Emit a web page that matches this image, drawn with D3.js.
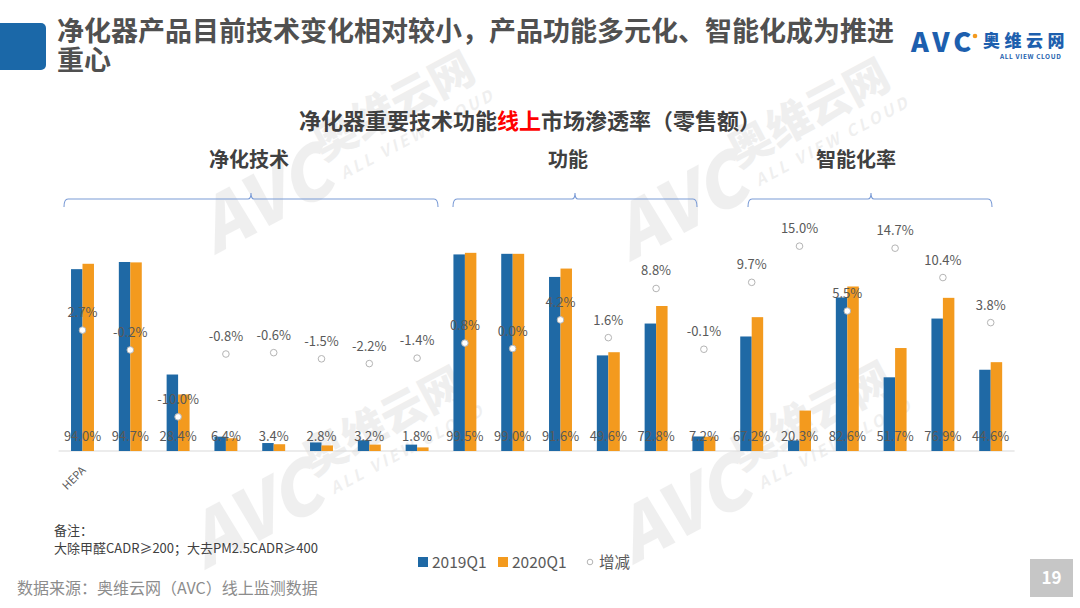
<!DOCTYPE html>
<html>
<head>
<meta charset="utf-8">
<script src="https://cdn.jsdelivr.net/npm/d3@7"></script>
<style>
  html, body { margin: 0; padding: 0; background: #fff; }
  #chart { width: 1080px; height: 608px; }
  text { font-family: "Noto Sans CJK SC", "Noto Sans", sans-serif; }
</style>
</head>
<body>
<div id="chart"></div>
<script>
"use strict";

// categories (only the first one carries a visible label in the source)
const categories = ["HEPA", "", "", "", "", "", "", "",
                    "", "", "", "", "", "",
                    "", "", "", "", "", ""];

// 2020Q1 penetration (%)
const values2020 = [94.0, 94.7, 28.4, 6.4, 3.4, 2.8, 3.2, 1.8,
                    99.5, 99.0, 91.6, 49.6, 72.8, 7.2,
                    67.2, 20.3, 82.6, 51.7, 76.9, 44.6];

// change in percentage points (2020Q1 - 2019Q1)
const changes = [2.7, -0.2, -10.0, -0.8, -0.6, -1.5, -2.2, -1.4,
                 0.8, 0.0, 4.2, 1.6, 8.8, -0.1,
                 9.7, 15.0, 5.5, 14.7, 10.4, 3.8];

// 2019Q1 penetration (%)
const values2019 = [91.3, 94.9, 38.4, 7.2, 4.0, 4.3, 5.4, 3.2,
                    98.7, 99.0, 87.4, 48.0, 64.0, 7.3,
                    57.5, 5.3, 77.1, 37.0, 66.5, 40.8];

const seriesNames = ["2019Q1", "2020Q1", "增减"];
const groupNames = ["净化技术", "功能", "智能化率"];

const width = 1080, height = 608;
const blue = "#1f69a5", orange = "#f39a1e", grey = "#595959";
const latin = "'Open Sans', 'Liberation Sans', 'Noto Sans CJK SC', sans-serif";

const svg = d3.select("#chart").append("svg")
    .attr("width", width)
    .attr("height", height);

// faint watermarks
function watermark(x, y) {
    const g = svg.append("g")
        .attr("transform", `translate(${x},${y}) rotate(-28)`)
        .attr("fill", "#000")
        .attr("opacity", 0.06);
    g.append("text").attr("x", 0).attr("y", 30)
        .attr("font-family", "Lato, sans-serif")
        .attr("font-weight", 900).attr("font-style", "italic")
        .attr("font-size", 72).attr("text-anchor", "end").text("AVC");
    g.append("text").attr("x", 0).attr("y", -2)
        .attr("font-weight", 900).attr("font-size", 44).text("奥维云网");
    g.append("text").attr("x", 10).attr("y", 24)
        .attr("font-family", "Lato, sans-serif")
        .attr("font-weight", 700).attr("font-style", "italic")
        .attr("font-size", 16).attr("letter-spacing", 3).text("ALL VIEW CLOUD");
}
watermark(324, 163);
watermark(739, 170);
watermark(314, 478);
watermark(742, 473);

// header
svg.append("rect")
    .attr("x", -6).attr("y", 23).attr("width", 52).attr("height", 47)
    .attr("rx", 5).attr("fill", "#1b68a8");

const title = svg.append("text")
    .attr("fill", "#505050")
    .attr("font-size", 27).attr("font-weight", 700);
title.append("tspan").attr("x", 57).attr("y", 41)
    .text("净化器产品目前技术变化相对较小，产品功能多元化、智能化成为推进");
title.append("tspan").attr("x", 57).attr("y", 70).text("重心");

// logo
const logo = svg.append("g").attr("fill", "#1d5fae");
logo.append("text").attr("x", 911).attr("y", 52)
    .attr("font-family", "Lato, sans-serif").attr("font-weight", 900)
    .attr("font-size", 27).attr("letter-spacing", 4).text("AVC");
logo.append("circle").attr("cx", 975).attr("cy", 36).attr("r", 2.3).attr("fill", "#f39a1e");
logo.append("text").attr("x", 983).attr("y", 47)
    .attr("font-weight", 900).attr("font-size", 17).attr("letter-spacing", 4.5).text("奥维云网");
logo.append("text").attr("x", 1000).attr("y", 59)
    .attr("font-family", "Lato, sans-serif").attr("font-weight", 700)
    .attr("font-size", 6.5).attr("letter-spacing", 0.6).text("ALL VIEW CLOUD");

// chart title
const ct = svg.append("text")
    .attr("x", 530).attr("y", 129)
    .attr("text-anchor", "middle")
    .attr("font-size", 22).attr("font-weight", 700).attr("fill", "#404040");
ct.append("tspan").text("净化器重要技术功能");
ct.append("tspan").attr("fill", "#ff0000").text("线上");
ct.append("tspan").text("市场渗透率（零售额）");

// scales
const x = d3.scaleBand()
    .domain(d3.range(categories.length))
    .range([58.6, 1014.6])
    .paddingInner(0.52)
    .paddingOuter(0.26);

const x1 = d3.scaleBand()
    .domain([0, 1])
    .range([0, x.bandwidth()]);

const y = d3.scaleLinear().domain([0, 120]).range([451, 212]);
const y2 = d3.scaleLinear().domain([-15, 20]).range([451, 212]);

// group labels and braces (hand placed in the source)
const groupLabelX = [249, 568, 856];
const braceSpans = [[64, 438, 251], [453, 697, 575], [748, 992, 871]];

groupNames.forEach((name, i) => {
    svg.append("text")
        .attr("x", groupLabelX[i]).attr("y", 167)
        .attr("text-anchor", "middle")
        .attr("font-size", 20).attr("font-weight", 700).attr("fill", "#404040")
        .text(name);
    const [a, b, m] = braceSpans[i];
    const yb = 199;
    const p = `M${a},${yb + 8} Q${a},${yb} ${a + 4},${yb} L${m - 3},${yb} Q${m},${yb} ${m},${yb - 6}` +
              ` Q${m},${yb} ${m + 3},${yb} L${b - 4},${yb} Q${b},${yb} ${b},${yb + 8}`;
    svg.append("path").attr("d", p)
        .attr("fill", "none").attr("stroke", "#7a9bd6").attr("stroke-width", 1.1);
});

// baseline
svg.append("line")
    .attr("x1", x.range()[0]).attr("x2", x.range()[1])
    .attr("y1", y(0)).attr("y2", y(0))
    .attr("stroke", "#d9d9d9").attr("stroke-width", 1);

// bars
const barData = [];
categories.forEach((c, i) => {
    barData.push({ i, s: 0, v: values2019[i] });
    barData.push({ i, s: 1, v: values2020[i] });
});

svg.append("g").selectAll("rect")
    .data(barData)
    .enter()
    .append("rect")
    .attr("x", d => x(d.i) + x1(d.s))
    .attr("width", x1.bandwidth())
    .attr("y", d => y(d.v))
    .attr("height", d => y(0) - y(d.v))
    .attr("fill", d => d.s === 0 ? blue : orange);

// value labels (2020Q1) near the base
svg.append("g").selectAll("text")
    .data(values2020)
    .enter()
    .append("text")
    .attr("x", (d, i) => x(i) + x.bandwidth() / 2)
    .attr("y", 441)
    .attr("text-anchor", "middle")
    .attr("font-family", latin)
    .attr("font-size", 13).attr("fill", grey)
    .text(d => d.toFixed(1) + "%");

// change markers
svg.append("g").selectAll("circle")
    .data(changes)
    .enter()
    .append("circle")
    .attr("cx", (d, i) => x(i) + x.bandwidth() / 2)
    .attr("cy", d => y2(d))
    .attr("r", 3.3)
    .attr("fill", "#fff")
    .attr("stroke", "#b4b4b4")
    .attr("stroke-width", 1);

svg.append("g").selectAll("text")
    .data(changes)
    .enter()
    .append("text")
    .attr("x", (d, i) => x(i) + x.bandwidth() / 2)
    .attr("y", d => y2(d) - 13)
    .attr("text-anchor", "middle")
    .attr("font-family", latin)
    .attr("font-size", 13).attr("fill", grey)
    .text(d => d.toFixed(1) + "%");

// category labels
svg.append("g").selectAll("text")
    .data(categories)
    .enter()
    .append("text")
    .attr("transform", (d, i) => `translate(${x(i) + x.bandwidth() / 2 + 4},${y(0) + 20}) rotate(-45)`)
    .attr("text-anchor", "end")
    .attr("font-family", latin)
    .attr("font-size", 11).attr("fill", grey)
    .text(d => d);

// notes
const note = svg.append("text")
    .attr("font-family", latin)
    .attr("font-size", 13).attr("fill", "#404040");
note.append("tspan").attr("x", 54).attr("y", 535).text("备注：");
note.append("tspan").attr("x", 54).attr("y", 553).text("大除甲醛CADR≥200；大去PM2.5CADR≥400");

// legend
const legend = svg.append("g")
    .attr("font-family", latin)
    .attr("font-size", 15.5).attr("fill", grey);
legend.append("rect").attr("x", 418).attr("y", 557).attr("width", 10).attr("height", 10).attr("fill", blue);
legend.append("text").attr("x", 432).attr("y", 568).text(seriesNames[0]);
legend.append("rect").attr("x", 498).attr("y", 557).attr("width", 10).attr("height", 10).attr("fill", orange);
legend.append("text").attr("x", 512).attr("y", 568).text(seriesNames[1]);
legend.append("circle").attr("cx", 590).attr("cy", 562).attr("r", 2.8)
    .attr("fill", "#fff").attr("stroke", "#b4b4b4");
legend.append("text").attr("x", 599).attr("y", 568).text(seriesNames[2]);

// source
svg.append("text")
    .attr("x", 17).attr("y", 594)
    .attr("font-size", 16).attr("fill", "#8c8c8c")
    .text("数据来源：奥维云网（AVC）线上监测数据");

// page number
svg.append("rect")
    .attr("x", 1030).attr("y", 559).attr("width", 43).attr("height", 38)
    .attr("fill", "#c6c6c6");
svg.append("text")
    .attr("x", 1051.5).attr("y", 584)
    .attr("text-anchor", "middle")
    .attr("font-family", "Roboto, sans-serif")
    .attr("font-size", 17).attr("font-weight", 700).attr("fill", "#fff")
    .text("19");
</script>
</body>
</html>
